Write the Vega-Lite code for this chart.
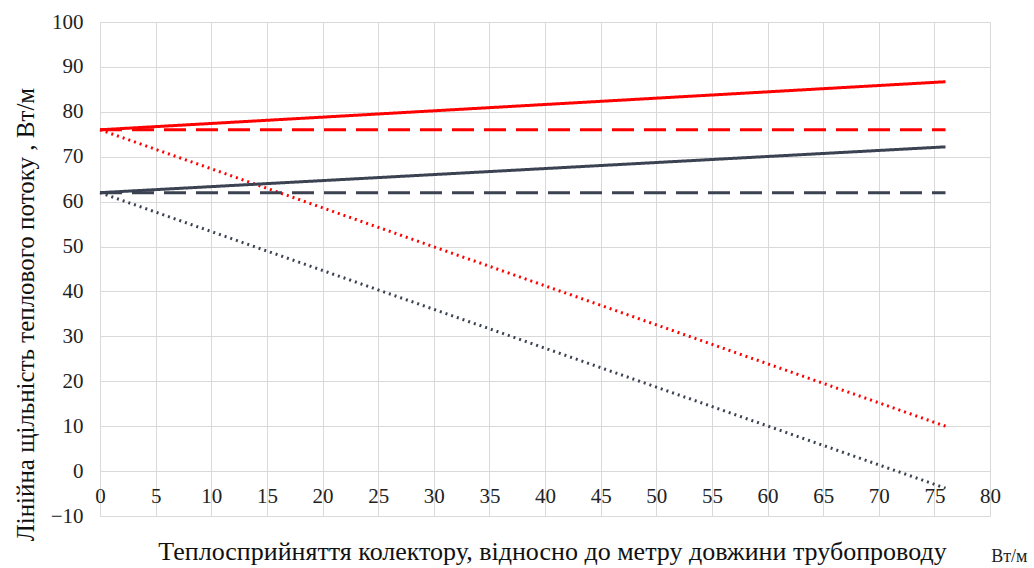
{
  "$schema": "https://vega.github.io/schema/vega-lite/v6.json",
  "width": 890,
  "height": 494,
  "autosize": {"type": "none"},
  "padding": {"left": 100, "top": 22, "right": 44, "bottom": 52},
  "background": "white",
  "config": {"view": {"stroke": null}, "font": "Liberation Serif"},
  "title": {"text": "Вт/м", "orient": "bottom", "anchor": "end", "font": "Liberation Serif", "fontSize": 18, "fontWeight": "normal", "color": "#222", "dx": 27, "dy": -20},
  "data": {"values": [
    {"x": 0, "y": 76, "group": "A", "type": "solid"},
    {"x": 76, "y": 86.7, "group": "A", "type": "solid"},
    {"x": 0, "y": 76, "group": "A", "type": "dashed"},
    {"x": 76, "y": 76, "group": "A", "type": "dashed"},
    {"x": 0, "y": 76, "group": "A", "type": "dotted"},
    {"x": 76, "y": 10, "group": "A", "type": "dotted"},
    {"x": 0, "y": 62, "group": "B", "type": "solid"},
    {"x": 76, "y": 72.2, "group": "B", "type": "solid"},
    {"x": 0, "y": 62, "group": "B", "type": "dashed"},
    {"x": 76, "y": 62, "group": "B", "type": "dashed"},
    {"x": 0, "y": 62, "group": "B", "type": "dotted"},
    {"x": 76, "y": -3.8, "group": "B", "type": "dotted"}
  ]},
  "mark": {"type": "line", "clip": false},
  "encoding": {
    "x": {"field": "x", "type": "quantitative",
      "scale": {"domain": [0, 80], "nice": false},
      "axis": {"values": [0,5,10,15,20,25,30,35,40,45,50,55,60,65,70,75,80], "grid": true, "gridColor": "#d9d9d9", "domain": false, "ticks": false,
        "labelFont": "Liberation Serif", "labelFontSize": 21, "labelColor": "#222", "labelPadding": -31, "labelFlush": false,
        "title": "Теплосприйняття колектору, відносно до метру довжини трубопроводу", "titleFont": "Liberation Serif", "titleFontSize": 26, "titleFontWeight": "normal", "titleColor": "#111", "titleBaseline": "middle", "titleX": 452, "titleY": 35}},
    "y": {"field": "y", "type": "quantitative",
      "scale": {"domain": [-10, 100], "nice": false},
      "axis": {"values": [-10,0,10,20,30,40,50,60,70,80,90,100], "grid": true, "gridColor": "#d9d9d9", "domain": false, "ticks": false,
        "labelFont": "Liberation Serif", "labelFontSize": 21, "labelColor": "#222", "labelPadding": 17,
        "title": "Лінійна щільність теплового потоку , Вт/м", "titleFont": "Liberation Serif", "titleFontSize": 25, "titleFontWeight": "normal", "titleColor": "#111", "titleBaseline": "middle", "titleX": -75, "titleY": 292}},
    "color": {"field": "group", "type": "nominal", "scale": {"domain": ["A", "B"], "range": ["#ff0000", "#3b4252"]}, "legend": null},
    "strokeDash": {"field": "type", "type": "nominal", "scale": {"domain": ["solid", "dashed", "dotted"], "range": [[1, 0], [22, 10], [2, 4]]}, "legend": null},
    "strokeWidth": {"field": "type", "type": "nominal", "scale": {"domain": ["solid", "dashed", "dotted"], "range": [3, 3, 2.2]}, "legend": null},
    "detail": {"field": "type"}
  }
}
